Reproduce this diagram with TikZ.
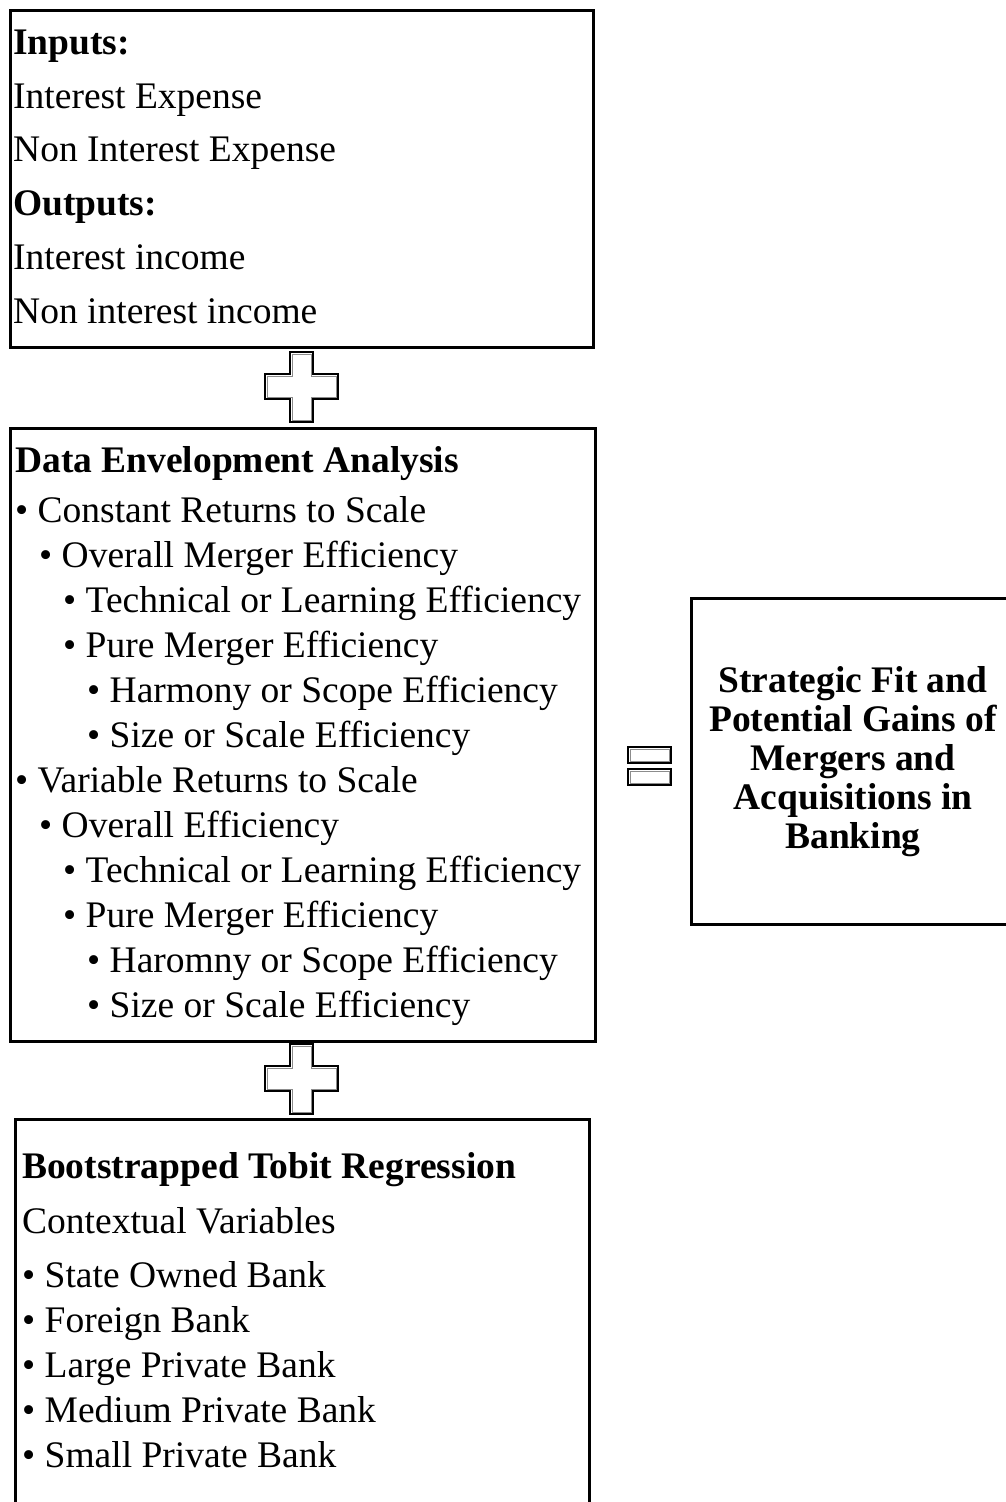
\documentclass[tikz,border=0pt]{standalone}
\usepackage{fontspec}
\setmainfont{Liberation Serif}
\begin{document}
\begin{tikzpicture}[x=1pt,y=-1pt,
  panel/.style={draw=black, line width=2.5pt, fill=white, inner sep=0pt, anchor=north west},
  txt/.style={anchor=base west, inner sep=0pt, font=\fontsize{37.5}{40}\selectfont},
  hd/.style={anchor=base west, inner sep=0pt, font=\fontsize{37.5}{40}\selectfont\bfseries},
  ctr/.style={anchor=base, inner sep=0pt, font=\fontsize{37.5}{40}\selectfont\bfseries},
  sym/.style={draw=black, line width=2.2pt, fill=white, line join=miter},
  symin/.style={draw=black!45, line width=0.9pt, line join=miter}]
\useasboundingbox (0,0) rectangle (1006,1502);

% panels
\node[panel, minimum width=583pt, minimum height=337pt] (io) at (9,9) {};
\node[panel, minimum width=585pt, minimum height=613pt] (dea) at (9,427) {};
\node[panel, minimum width=574pt, minimum height=420pt] (tobit) at (14,1118) {};
\node[panel, minimum width=330pt, minimum height=326pt] (goal) at (690,597) {};

% inputs and outputs
\node[hd]  (in)   at (13,54)  {Inputs:};
\node[txt] (in1)  at (13,108) {Interest Expense};
\node[txt] (in2)  at (13,161) {Non Interest Expense};
\node[hd]  (out)  at (13,215) {Outputs:};
\node[txt] (out1) at (13,269) {Interest income};
\node[txt] (out2) at (13,323) {Non interest income};

% data envelopment analysis
\def\lvA{15}\def\lvB{39}\def\lvC{63}\def\lvD{87}
\node[hd]  (d0)  at (15,472)    {Data Envelopment Analysis};
\node[txt] (d1)  at (\lvA,522)  {• Constant Returns to Scale};
\node[txt] (d2)  at (\lvB,567)  {• Overall Merger Efficiency};
\node[txt] (d3)  at (\lvC,612)  {• Technical or Learning Efficiency};
\node[txt] (d4)  at (\lvC,657)  {• Pure Merger Efficiency};
\node[txt] (d5)  at (\lvD,702)  {• Harmony or Scope Efficiency};
\node[txt] (d6)  at (\lvD,747)  {• Size or Scale Efficiency};
\node[txt] (d7)  at (\lvA,792)  {• Variable Returns to Scale};
\node[txt] (d8)  at (\lvB,837)  {• Overall Efficiency};
\node[txt] (d9)  at (\lvC,882)  {• Technical or Learning Efficiency};
\node[txt] (d10) at (\lvC,927)  {• Pure Merger Efficiency};
\node[txt] (d11) at (\lvD,972)  {• Haromny or Scope Efficiency};
\node[txt] (d12) at (\lvD,1017) {• Size or Scale Efficiency};

% bootstrapped tobit regression
\node[hd]  (t0) at (22,1178) {Bootstrapped Tobit Regression};
\node[txt] (t1) at (22,1233) {Contextual Variables};
\node[txt] (t2) at (22,1287) {• State Owned Bank};
\node[txt] (t3) at (22,1332) {• Foreign Bank};
\node[txt] (t4) at (22,1377) {• Large Private Bank};
\node[txt] (t5) at (22,1422) {• Medium Private Bank};
\node[txt] (t6) at (22,1467) {• Small Private Bank};

% outcome
\node[ctr] (g1) at (853,692) {Strategic Fit and};
\node[ctr] (g2) at (853,731) {Potential Gains of};
\node[ctr] (g3) at (853,770) {Mergers and};
\node[ctr] (g4) at (853,809) {Acquisitions in};
\node[ctr] (g5) at (853,848) {Banking};

% plus signs between the panels
\foreach \cy in {387,1079}{
  \draw[sym] (290,\cy-35) -- (313,\cy-35) -- (313,\cy-13) -- (338,\cy-13)
    -- (338,\cy+12) -- (313,\cy+12) -- (313,\cy+35) -- (290,\cy+35)
    -- (290,\cy+12) -- (265,\cy+12) -- (265,\cy-13) -- (290,\cy-13) -- cycle;
  \draw[symin] (292,\cy-33) -- (311,\cy-33) -- (311,\cy-11) -- (336,\cy-11)
    -- (336,\cy+10) -- (311,\cy+10) -- (311,\cy+33) -- (292,\cy+33)
    -- (292,\cy+10) -- (267,\cy+10) -- (267,\cy-11) -- (292,\cy-11) -- cycle;
}

% equals sign
\draw[sym] (628,747) rectangle (671,763);
\draw[sym] (628,769) rectangle (671,785);
\draw[symin] (630,749) rectangle (669,761);
\draw[symin] (630,771) rectangle (669,783);
\end{tikzpicture}
\end{document}
